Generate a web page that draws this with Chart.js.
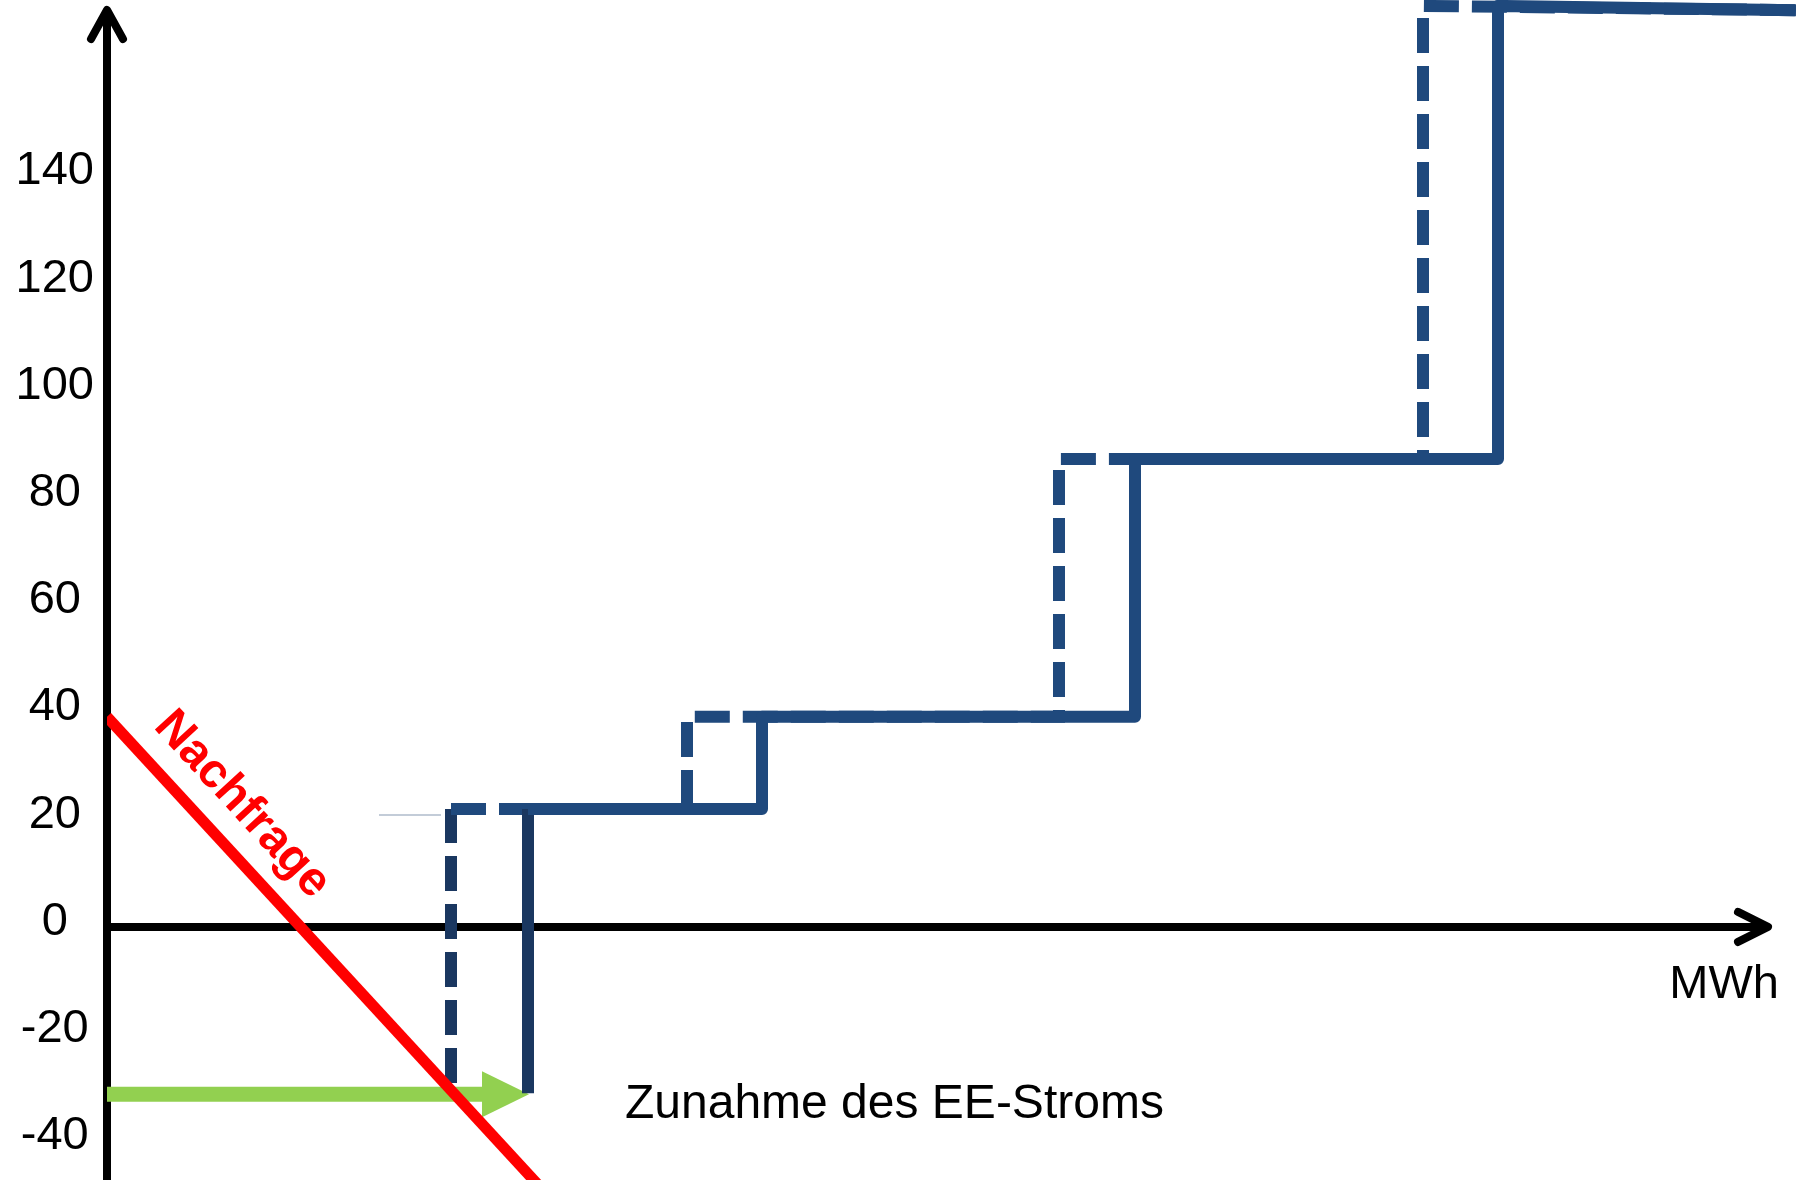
<!DOCTYPE html>
<html>
<head>
<meta charset="utf-8">
<script src="https://cdn.jsdelivr.net/npm/chart.js@4"></script>
<style>
  html, body { margin: 0; padding: 0; background: #fff; }
  #wrap { width: 1796px; height: 1180px; }
</style>
</head>
<body>
<div id="wrap"><canvas id="meritorder"></canvas></div>
<script>
const yTicks = [-40, -20, 0, 20, 40, 60, 80, 100, 120, 140];

// Angebot nach Zunahme des EE-Stroms (durchgezogen)
const supplyX = [42.1, 42.1, 65.5, 65.5, 102.8, 102.8, 139.1, 139.1, 168.9];
const supplyY = [-31.0, 22, 22, 39.2, 39.2, 87.3, 87.3, 171.8, 171.0];

// Angebot vorher (gestrichelt)
const oldSupplyX = [34.4, 34.4, 58.0, 58.0, 95.2, 95.2, 131.6, 131.6, 168.9];
const oldSupplyY = [-29.1, 22, 22, 39.2, 39.2, 87.3, 87.3, 171.8, 171.0];

// Nachfrage
const demandX = [0, 44];
const demandY = [39.2, -49.9];

// Verschiebung (gruener Pfeil)
const shiftX = [0, 37.6];
const shiftY = [-31.2, -31.2];
const shiftTip = [42.2, -31.2];

// blasse Hilfslinie
const paleX = [27.2, 33.4];
const paleY = [20.9, 20.9];

const FONT = '"Liberation Sans", Arial, sans-serif';
const NAVY = '#1F497D';
const NAVY_DARK = '#1A3760';

function pts(xs, ys) {
  return xs.map((x, i) => ({x: x, y: ys[i]}));
}

const firstDark = ctx => ctx.p0DataIndex === 0 ? NAVY_DARK : NAVY;

// Achsen mit Pfeilspitzen und gruene Pfeilspitze
const axesPlugin = {
  id: 'axes',
  beforeDatasetsDraw(chart) {
    const {ctx, chartArea, scales: {x, y}} = chart;
    const x0 = x.getPixelForValue(0);
    const y0 = y.getPixelForValue(0);
    const xEnd = 1768;
    const yEnd = chartArea.top + 10;
    ctx.save();
    ctx.strokeStyle = '#000';
    ctx.lineWidth = 8;
    ctx.lineCap = 'butt';
    ctx.beginPath();
    ctx.moveTo(x0, chartArea.bottom);
    ctx.lineTo(x0, yEnd);
    ctx.moveTo(x0, y0);
    ctx.lineTo(xEnd, y0);
    ctx.stroke();
    ctx.lineCap = 'round';
    ctx.lineJoin = 'round';
    ctx.beginPath();
    ctx.moveTo(x0 - 16, yEnd + 29);
    ctx.lineTo(x0, yEnd);
    ctx.lineTo(x0 + 16, yEnd + 29);
    ctx.moveTo(xEnd - 30, y0 - 15);
    ctx.lineTo(xEnd, y0);
    ctx.lineTo(xEnd - 30, y0 + 15);
    ctx.stroke();

    // Pfeilspitze
    const tx = x.getPixelForValue(shiftTip[0]);
    const ty = y.getPixelForValue(shiftTip[1]);
    ctx.fillStyle = '#92D050';
    ctx.beginPath();
    ctx.moveTo(tx, ty);
    ctx.lineTo(tx - 47, ty - 23);
    ctx.lineTo(tx - 47, ty + 23);
    ctx.closePath();
    ctx.fill();
    ctx.restore();
  },
  afterDraw(chart) {
    const {ctx, scales: {x, y}} = chart;
    ctx.save();
    ctx.fillStyle = '#000';
    ctx.textBaseline = 'middle';
    ctx.font = '47px ' + FONT;
    ctx.textAlign = 'right';
    ctx.fillText('MWh', x.getPixelForValue(167.2), y.getPixelForValue(-10.8));
    ctx.font = '48px ' + FONT;
    ctx.textAlign = 'left';
    ctx.fillText('Zunahme des EE-Stroms', x.getPixelForValue(51.8), y.getPixelForValue(-33.2));

    ctx.translate(x.getPixelForValue(13.5), y.getPixelForValue(22.8));
    ctx.rotate(47.4 * Math.PI / 180);
    ctx.fillStyle = '#FF0000';
    ctx.font = 'bold 48px ' + FONT;
    ctx.textAlign = 'center';
    ctx.fillText('Nachfrage', 0, 0);
    ctx.restore();
  }
};

const chart = new Chart(document.getElementById('meritorder'), {
  type: 'scatter',
  data: {
    datasets: [
      {
        label: 'Nachfrage',
        data: pts(demandX, demandY),
        showLine: true,
        borderColor: '#FF0000',
        borderWidth: 11,
        pointRadius: 0
      },
      {
        label: 'Angebot neu',
        data: pts(supplyX, supplyY),
        showLine: true,
        borderColor: NAVY,
        borderWidth: 12,
        borderJoinStyle: 'round',
        segment: { borderColor: firstDark },
        pointRadius: 0
      },
      {
        label: 'Angebot alt',
        data: pts(oldSupplyX, oldSupplyY),
        showLine: true,
        borderColor: NAVY,
        borderWidth: 12,
        borderDash: [35, 13],
        segment: { borderColor: firstDark },
        pointRadius: 0
      },
      {
        label: 'Hilfslinie',
        data: pts(paleX, paleY),
        showLine: true,
        borderColor: '#C3CCD8',
        borderWidth: 2,
        pointRadius: 0
      },
      {
        label: 'Zunahme',
        data: pts(shiftX, shiftY),
        showLine: true,
        borderColor: '#92D050',
        borderWidth: 15,
        pointRadius: 0
      }
    ]
  },
  options: {
    responsive: true,
    maintainAspectRatio: false,
    animation: false,
    devicePixelRatio: 1,
    layout: { padding: 0 },
    plugins: {
      legend: { display: false },
      tooltip: { enabled: false }
    },
    scales: {
      x: {
        type: 'linear',
        min: 0,
        max: 168.9,
        display: false
      },
      y: {
        type: 'linear',
        min: -47.2,
        max: 172.9,
        afterBuildTicks: scale => {
          scale.ticks = yTicks.map(v => ({value: v}));
        },
        afterFit: scale => {
          scale.width = 107;
          scale.paddingTop = 0;
          scale.paddingBottom = 0;
        },
        grid: { display: false, drawTicks: false, tickLength: 0 },
        border: { display: false },
        ticks: {
          padding: 13,
          crossAlign: 'center',
          labelOffset: -5,
          color: '#000',
          font: { family: FONT, size: 47 }
        }
      }
    }
  },
  plugins: [axesPlugin]
});
</script>
</body>
</html>
